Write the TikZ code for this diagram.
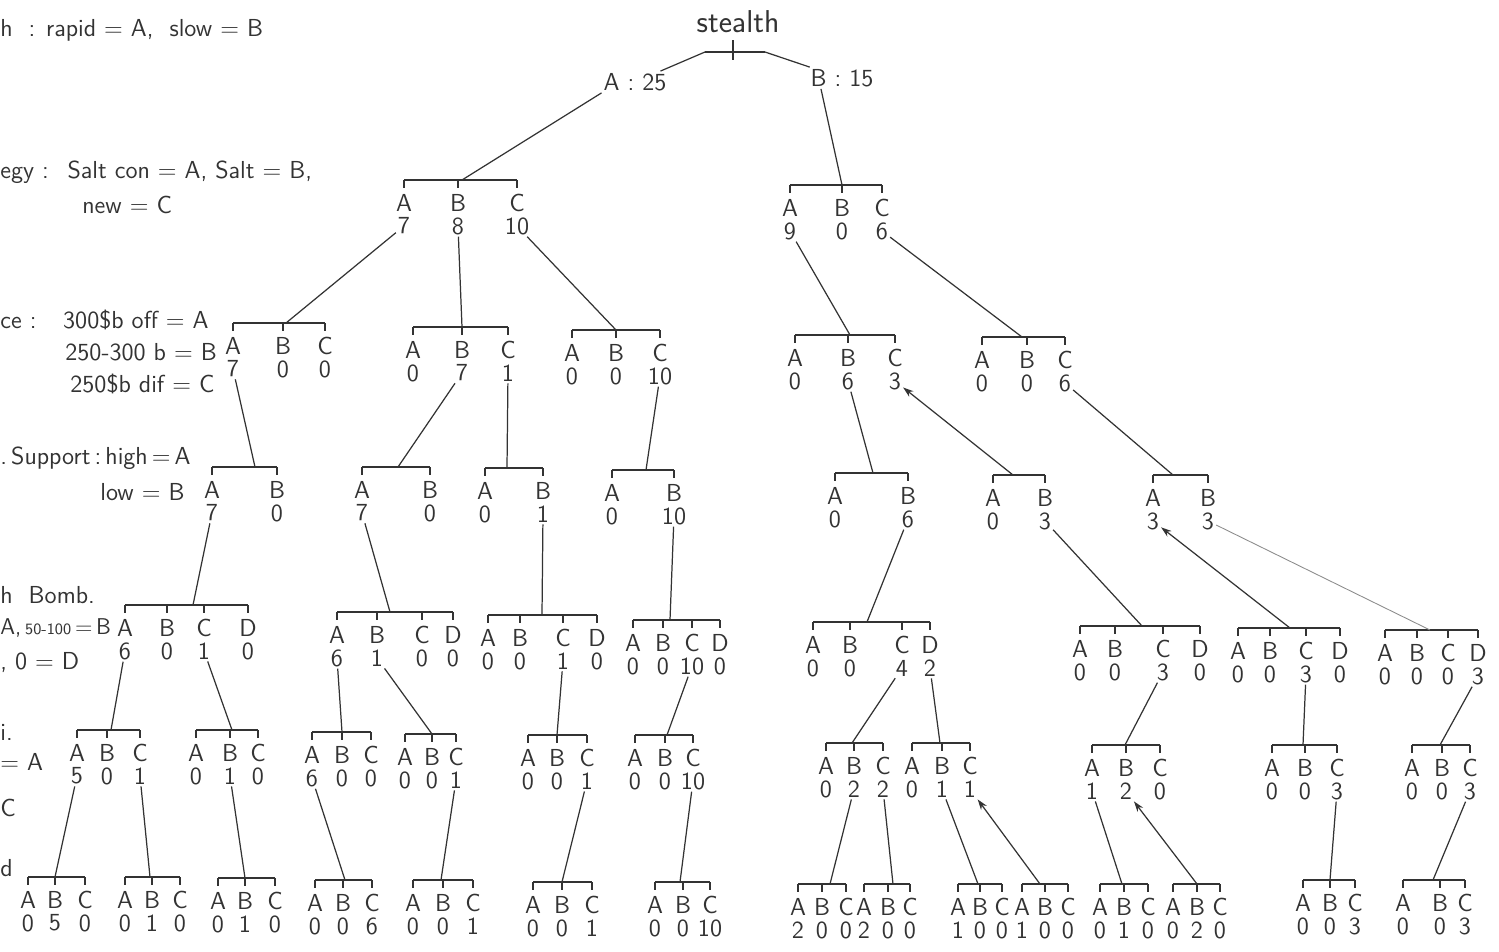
\documentclass[tikz,border=0pt]{standalone}
\usepackage{tikz}
\usetikzlibrary{arrows.meta}

% one bracket: name, bar y, join x, list of x/letter/value
\newcommand{\branch}[4]{%
  \coordinate (#1) at (#3,#2);
  \foreach \bx/\bl/\bv [count=\bi, remember=\bx as \bp (initially 0)] in {#4} {
    \ifnum\bi>1 \draw[bar] (\bp,#2) -- (\bx,#2); \fi
    \draw[tick] (\bx,#2) -- ++(0,8);
    \node[letter] (#1-\bl) at (\bx,#2+23) {\bl};
    \node[value] (#1-\bl-v) at (\bx,#2+46) {\bv};
  }}

\begin{document}
\begin{tikzpicture}[x=0.02cm, y=-0.02cm,
    bar/.style={line width=1.3pt, black!80},
    tick/.style={line width=0.9pt, black!80},
    link/.style={line width=0.7pt, black!80},
    letter/.style={font=\sffamily\fontsize{14}{14}\selectfont, text=black!80, inner sep=1pt},
    value/.style={font=\sffamily\fontsize{14}{14}\selectfont, text=black!80, inner sep=1pt},
    note/.style={font=\sffamily\fontsize{14}{14}\selectfont, text=black!80, anchor=west, inner sep=0pt},
    tip/.style={{Stealth[length=6pt,width=4pt]}-}]
  \useasboundingbox (0,0) rectangle (1499,951);

  % notes on the left
  \node[note] (n1) at (0,30) {h \ : rapid = A, \ slow = B};
  \node[note] (n2) at (0,172) {egy : \ Salt con = A, Salt = B,};
  \node[note] (n3) at (82,205) {new = C};
  \node[note] (n4) at (0,320) {ce : \ \ 300\$b off = A};
  \node[note] (n5) at (65,352) {250-300 b = B};
  \node[note] (n6) at (70,384) {250\$b dif = C};
  \node[note] (n7) at (0,458) {.\,Support\,:\,high\,=\,A};
  \node[note] (n8) at (100,492) {low = B};
  \node[note] (n9) at (0,595) {h \ Bomb.};
  \node[note, font=\sffamily\fontsize{13}{13}\selectfont] (n10) at (0,628) {A,\,{\fontsize{9}{9}\selectfont 50-100}\,=\,B};
  \node[note] (n11) at (0,662) {, 0 = D};
  \node[note] (n12) at (0,732) {i.};
  \node[note] (n13) at (0,762) {= A};
  \node[note] (n14) at (0,808) {C};
  \node[note] (n15) at (0,868) {d};

  % root
  \node[font=\sffamily\fontsize{18}{18}\selectfont, text=black!80] (root) at (738,22) {stealth};
  \draw[tick] (733,40) -- (733,60);
  \draw[bar] (705,52) coordinate (rootL) -- (765,52) coordinate (rootR);
  \node[value] (a25) at (635,82) {A : 25};
  \node[value] (b15) at (842,78) {B : 15};
  \draw[link] (rootL) -- (a25);
  \draw[link] (rootR) -- (b15);

  % - strategy
  \branch{g2a}{180}{462}{404/A/7, 458/B/8, 517/C/10}
  \branch{g2b}{185}{842}{790/A/9, 842/B/0, 882/C/6}
  \draw[link] (a25.south west) -- (g2a);
  \draw[link] ([xshift=0.25cm]b15.south west) -- (g2b);

  % - price
  \branch{g3a}{323}{286}{233/A/7, 283/B/0, 325/C/0}
  \branch{g3b}{327}{462}{413/A/0, 462/B/7, 508/C/1}
  \branch{g3c}{330}{616}{572/A/0, 616/B/0, 660/C/10}
  \branch{g3d}{335}{850}{795/A/0, 848/B/6, 895/C/3}
  \branch{g3e}{337}{1022}{982/A/0, 1027/B/0, 1065/C/6}
  \draw[link] (g2a-A-v) -- (g3a);
  \draw[link] (g2a-B-v) -- (g3b);
  \draw[link] (g2a-C-v) -- (g3c);
  \draw[link] (g2b-A-v) -- (g3d);
  \draw[link] (g2b-C-v) -- (g3e);

  % - support
  \branch{g4a}{467}{255}{212/A/7, 277/B/0}
  \branch{g4b}{467}{398}{362/A/7, 430/B/0}
  \branch{g4c}{468}{507}{485/A/0, 543/B/1}
  \branch{g4d}{470}{646}{612/A/0, 674/B/10}
  \branch{g4e}{473}{873}{835/A/0, 908/B/6}
  \branch{g4f}{475}{1013}{993/A/0, 1045/B/3}
  \branch{g4g}{475}{1173}{1153/A/3, 1208/B/3}
  \draw[link] (g3a-A-v) -- (g4a);
  \draw[link] (g3b-B-v) -- (g4b);
  \draw[link] (g3b-C-v) -- (g4c);
  \draw[link] (g3c-C-v) -- (g4d);
  \draw[link] (g3d-B-v) -- (g4e);
  \draw[link, tip] (g3d-C-v) -- (g4f);
  \draw[link] (g3e-C-v) -- (g4g);

  % - bomb
  \branch{g5a}{605}{193}{125/A/6, 167/B/0, 204/C/1, 248/D/0}
  \branch{g5b}{612}{390}{337/A/6, 377/B/1, 422/C/0, 453/D/0}
  \branch{g5c}{615}{542}{488/A/0, 520/B/0, 563/C/1, 597/D/0}
  \branch{g5d}{620}{670}{633/A/0, 663/B/0, 692/C/10, 720/D/0}
  \branch{g5e}{622}{867}{813/A/0, 850/B/0, 902/C/4, 930/D/2}
  \branch{g5f}{626}{1142}{1080/A/0, 1115/B/0, 1163/C/3, 1200/D/0}
  \branch{g5g}{628}{1290}{1238/A/0, 1270/B/0, 1306/C/3, 1340/D/0}
  \branch{g5h}{630}{1430}{1385/A/0, 1417/B/0, 1448/C/0, 1478/D/3}
  \draw[link] (g4a-A-v) -- (g5a);
  \draw[link] (g4b-A-v) -- (g5b);
  \draw[link] (g4c-B-v) -- (g5c);
  \draw[link] (g4d-B-v) -- (g5d);
  \draw[link] (g4e-B-v) -- (g5e);
  \draw[link] (g4f-B-v) -- (g5f);
  \draw[link, tip] (g4g-A-v) -- (g5g);
  \draw[link, black!45, line width=0.5pt] (g4g-B-v) -- (g5h);

  % - sixth level
  \branch{g6a}{730}{111}{77/A/5, 107/B/0, 140/C/1}
  \branch{g6b}{730}{232}{196/A/0, 230/B/1, 258/C/0}
  \branch{g6c}{732}{342}{312/A/6, 342/B/0, 371/C/0}
  \branch{g6d}{734}{432}{405/A/0, 432/B/0, 456/C/1}
  \branch{g6e}{735}{557}{528/A/0, 557/B/0, 587/C/1}
  \branch{g6f}{735}{667}{635/A/0, 665/B/0, 693/C/10}
  \branch{g6g}{743}{852}{826/A/0, 854/B/2, 883/C/2}
  \branch{g6h}{743}{940}{912/A/0, 942/B/1, 970/C/1}
  \branch{g6i}{745}{1125}{1092/A/1, 1126/B/2, 1160/C/0}
  \branch{g6j}{745}{1303}{1272/A/0, 1305/B/0, 1337/C/3}
  \branch{g6k}{745}{1440}{1412/A/0, 1442/B/0, 1470/C/3}
  \draw[link] (g5a-A-v) -- (g6a);
  \draw[link] (g5a-C-v) -- (g6b);
  \draw[link] (g5b-A-v) -- (g6c);
  \draw[link] (g5b-B-v) -- (g6d);
  \draw[link] (g5c-C-v) -- (g6e);
  \draw[link] (g5d-C-v) -- (g6f);
  \draw[link] (g5e-C-v) -- (g6g);
  \draw[link] (g5e-D-v) -- (g6h);
  \draw[link] (g5f-C-v) -- (g6i);
  \draw[link] (g5g-C-v) -- (g6j);
  \draw[link] (g5h-D-v) -- (g6k);

  % - leaves
  \branch{h1}{877}{55}{28/A/0, 55/B/5, 85/C/0}
  \branch{h2}{877}{150}{125/A/0, 152/B/1, 180/C/0}
  \branch{h3}{878}{245}{218/A/0, 245/B/1, 275/C/0}
  \branch{h4}{880}{345}{315/A/0, 343/B/0, 372/C/6}
  \branch{h5}{880}{441}{413/A/0, 443/B/0, 473/C/1}
  \branch{h6}{882}{562}{533/A/0, 562/B/0, 592/C/1}
  \branch{h7}{882}{680}{655/A/0, 683/B/0, 710/C/10}
  \branch{h8}{884}{830}{798/A/2, 822/B/0, 846/C/0}
  \branch{h9}{884}{893}{864/A/2, 888/B/0, 910/C/0}
  \branch{h10}{884}{978}{958/A/1, 980/B/0, 1002/C/0}
  \branch{h11}{884}{1040}{1022/A/1, 1045/B/0, 1068/C/0}
  \branch{h12}{884}{1122}{1100/A/0, 1124/B/1, 1148/C/0}
  \branch{h13}{884}{1197}{1173/A/0, 1197/B/2, 1220/C/0}
  \branch{h14}{880}{1330}{1303/A/0, 1330/B/0, 1355/C/3}
  \branch{h15}{880}{1433}{1403/A/0, 1440/B/0, 1465/C/3}
  \draw[link] (g6a-A-v) -- (h1);
  \draw[link] (g6a-C-v) -- (h2);
  \draw[link] (g6b-B-v) -- (h3);
  \draw[link] (g6c-A-v) -- (h4);
  \draw[link] (g6d-C-v) -- (h5);
  \draw[link] (g6e-C-v) -- (h6);
  \draw[link] (g6f-C-v) -- (h7);
  \draw[link] (g6g-B-v) -- (h8);
  \draw[link] (g6g-C-v) -- (h9);
  \draw[link] (g6h-B-v) -- (h10);
  \draw[link, tip] (g6h-C-v) -- (h11);
  \draw[link] (g6i-A-v) -- (h12);
  \draw[link, tip] (g6i-B-v) -- (h13);
  \draw[link] (g6j-C-v) -- (h14);
  \draw[link] (g6k-C-v) -- (h15);
\end{tikzpicture}
\end{document}
